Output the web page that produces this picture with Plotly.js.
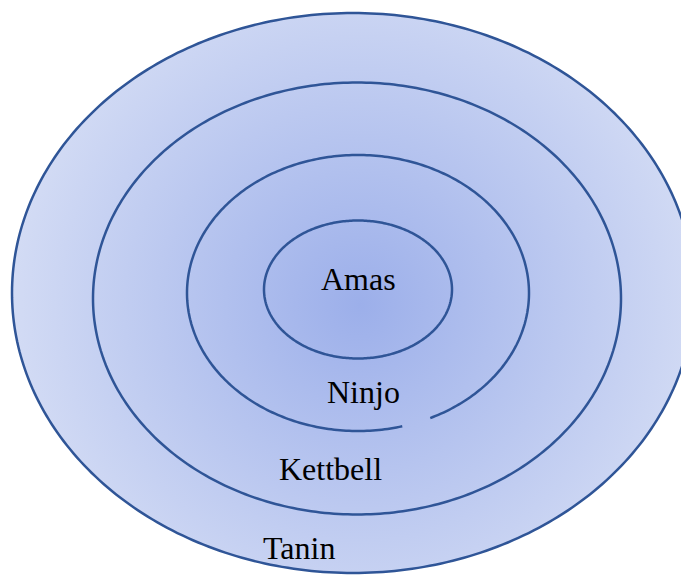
<!DOCTYPE html>
<html>
<head>
<meta charset="utf-8">
<script src="https://cdn.plot.ly/plotly-3.0.1.min.js"></script>
<style>
html,body{margin:0;padding:0;background:#fff;}
#chart{width:681px;height:575px;}
</style>
</head>
<body>
<div id="chart"></div>
<script>
// Rings, innermost to outermost
const rings = ["Amas", "Ninjo", "Kettbell", "Tanin"];

// Ring geometry (pixel-like data coordinates)
const ringCx = [358, 358, 357, 353];
const ringCy = [289.5, 293, 298.5, 293];
const ringRx = [94, 171, 264, 341];
const ringRy = [69, 138, 216, 280];

// Label positions
const labelX = [358.5, 363, 330.5, 299];
const labelY = [279, 392, 469, 547.5];

const lineColor = "#2f5597";

function ellipsePath(cx, cy, rx, ry, skipFromX, skipToX) {
  const n = 360;
  let d = "";
  let pen = false;
  for (let i = 0; i <= n; i++) {
    const t = (i / n) * 2 * Math.PI;
    const x = cx + rx * Math.cos(t);
    const y = cy + ry * Math.sin(t);
    const inGap = skipFromX !== undefined && y > cy && x > skipFromX && x < skipToX;
    if (inGap) { pen = false; continue; }
    d += (pen ? " L " : " M ") + x.toFixed(2) + " " + y.toFixed(2);
    pen = true;
  }
  return d;
}

const shapes = rings.map((r, i) => {
  const gap = r === "Ninjo";
  return {
    type: "path",
    xref: "x", yref: "y",
    path: gap ? ellipsePath(ringCx[i], ringCy[i], ringRx[i], ringRy[i], 403, 428)
              : ellipsePath(ringCx[i], ringCy[i], ringRx[i], ringRy[i]),
    line: { color: lineColor, width: 2.5 },
    fillcolor: "rgba(0,0,0,0)",
    layer: "above"
  };
});

const o = 3;
const svg =
  '<svg xmlns="http://www.w3.org/2000/svg" width="681" height="575" viewBox="0 0 681 575">' +
  '<defs><radialGradient id="g" gradientUnits="userSpaceOnUse" cx="360" cy="305" r="370">' +
  '<stop offset="0" stop-color="#9cafea"/>' +
  '<stop offset="1" stop-color="#d6def5"/>' +
  '</radialGradient></defs>' +
  '<ellipse cx="' + ringCx[o] + '" cy="' + ringCy[o] + '" rx="' + ringRx[o] + '" ry="' + ringRy[o] + '" fill="url(#g)"/>' +
  '</svg>';
const src = "data:image/svg+xml;base64," + btoa(svg);

const annotations = rings.map((r, i) => ({
  x: labelX[i], y: labelY[i], xref: "x", yref: "y",
  text: r, showarrow: false,
  xanchor: "center", yanchor: "middle",
  font: { family: "Liberation Serif", size: 32, color: "#000000" }
}));

const layout = {
  width: 681, height: 575,
  margin: { l: 0, r: 0, t: 0, b: 0, pad: 0 },
  paper_bgcolor: "#ffffff",
  plot_bgcolor: "rgba(0,0,0,0)",
  showlegend: false,
  xaxis: { range: [0, 681], visible: false, fixedrange: true },
  yaxis: { range: [575, 0], visible: false, fixedrange: true },
  images: [{
    source: src, xref: "paper", yref: "paper",
    x: 0, y: 1, sizex: 1, sizey: 1,
    xanchor: "left", yanchor: "top",
    sizing: "stretch", layer: "below"
  }],
  shapes: shapes,
  annotations: annotations
};

Plotly.newPlot("chart", [{ x: [], y: [], type: "scatter", mode: "markers", hoverinfo: "skip" }], layout,
  { displayModeBar: false, staticPlot: true });
</script>
</body>
</html>
